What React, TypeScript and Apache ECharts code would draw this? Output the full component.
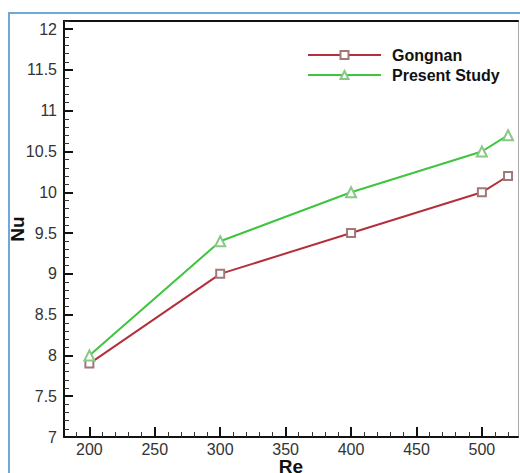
import React, { useEffect, useRef } from "react";
import * as echarts from "echarts";

const reValues = [200, 300, 400, 500, 520];
const gongnan = [7.9, 9.0, 9.5, 10.0, 10.2];
const presentStudy = [8.0, 9.4, 10.0, 10.5, 10.7];
const xMajorTicks = [200, 250, 300, 350, 400, 450, 500];
const yMajorTicks = [7, 7.5, 8, 8.5, 9, 9.5, 10, 10.5, 11, 11.5, 12];

const xMinorTicks: number[] = [];
for (let v = 190; v <= 520; v += 10) if (v % 50 !== 0) xMinorTicks.push(v);
const yMinorTicks: number[] = [];
for (let i = 71; i <= 121; i++) if (i % 5 !== 0) yMinorTicks.push(i / 10);

const FONT = "Liberation Sans, Arial, sans-serif";
const X_MIN = 180.6;
const X_MAX = 527.6;
const Y_MIN = 7;
const Y_MAX = 12.1;

export default function App() {
  const ref = useRef<HTMLDivElement>(null);
  useEffect(() => {
    if (!ref.current) return;
    const chart = echarts.init(ref.current, null, { renderer: "svg" });
    chart.setOption({
      animation: false,
      backgroundColor: "#ffffff",
      graphic: [
        {
          type: "rect",
          shape: { x: 9, y: 13, width: 700, height: 700 },
          style: { fill: "none", stroke: "#6fa8dc", lineWidth: 2 },
          z: 100,
        },
      ],
      grid: { left: 64, top: 21, right: 2, bottom: 36, containLabel: false, outerBoundsMode: "none" },
      legend: {
        data: ["Gongnan", "Present Study"],
        orient: "vertical",
        left: 302,
        top: 42,
        itemWidth: 73,
        itemHeight: 10,
        itemGap: 4,
        textStyle: {
          fontFamily: FONT,
          fontSize: 16,
          fontWeight: "bold",
          color: "#111",
          padding: [0, 0, 0, 6],
        },
      },
      xAxis: [
        {
          type: "value",
          min: X_MIN,
          max: X_MAX,
          name: "Re",
          nameLocation: "middle",
          nameGap: 20,
          nameMoveOverlap: false,
          nameTextStyle: { fontFamily: FONT, fontSize: 19, fontWeight: "bold", color: "#111" },
          axisLine: { show: true, onZero: false, lineStyle: { color: "#111", width: 2 } },
          axisTick: { show: true, inside: true, length: 10, customValues: xMajorTicks, lineStyle: { color: "#111", width: 2 } },
          axisLabel: {
            customValues: xMajorTicks,
            margin: 4,
            fontFamily: FONT,
            fontSize: 16,
            color: "#333",
          },
          splitLine: { show: false },
        },
        {
          type: "value",
          min: X_MIN,
          max: X_MAX,
          position: "bottom",
          axisLine: { show: false },
          axisTick: { show: true, inside: true, length: 5, customValues: xMinorTicks, lineStyle: { color: "#333", width: 1 } },
          axisLabel: { show: false },
          splitLine: { show: false },
        },
        {
          type: "value",
          min: X_MIN,
          max: X_MAX,
          position: "top",
          axisLine: { show: true, onZero: false, lineStyle: { color: "#111", width: 2 } },
          axisTick: { show: false },
          axisLabel: { show: false },
          splitLine: { show: false },
        },
      ],
      yAxis: [
        {
          type: "value",
          min: Y_MIN,
          max: Y_MAX,
          name: "Nu",
          nameLocation: "middle",
          nameGap: 37,
          nameMoveOverlap: false,
          nameTextStyle: { fontFamily: FONT, fontSize: 19, fontWeight: "bold", color: "#111" },
          axisLine: { show: true, onZero: false, lineStyle: { color: "#111", width: 2 } },
          axisTick: { show: true, inside: true, length: 9, customValues: yMajorTicks, lineStyle: { color: "#111", width: 2 } },
          axisLabel: {
            customValues: yMajorTicks,
            margin: 7,
            fontFamily: FONT,
            fontSize: 16,
            color: "#333",
          },
          splitLine: { show: false },
        },
        {
          type: "value",
          min: Y_MIN,
          max: Y_MAX,
          position: "left",
          axisLine: { show: false },
          axisTick: { show: true, inside: true, length: 5, customValues: yMinorTicks, lineStyle: { color: "#333", width: 1 } },
          axisLabel: { show: false },
          splitLine: { show: false },
        },
        {
          type: "value",
          min: Y_MIN,
          max: Y_MAX,
          position: "right",
          axisLine: { show: true, onZero: false, lineStyle: { color: "#aaa", width: 1 } },
          axisTick: { show: false },
          axisLabel: { show: false },
          splitLine: { show: false },
        },
      ],
      series: [
        {
          name: "Gongnan",
          type: "line",
          data: reValues.map((x, i) => [x, gongnan[i]]),
          symbol: "emptyRect",
          symbolSize: 8,
          lineStyle: { color: "#b3303c", width: 2 },
          itemStyle: { color: "#a07878", borderWidth: 1.2 },
        },
        {
          name: "Present Study",
          type: "line",
          data: reValues.map((x, i) => [x, presentStudy[i]]),
          symbol: "emptyTriangle",
          symbolSize: 10,
          lineStyle: { color: "#3ec43e", width: 2 },
          itemStyle: { color: "#88c888", borderWidth: 1.2 },
        },
      ],
    });
    return () => chart.dispose();
  }, []);
  return (
    <div
      ref={ref}
      style={{ position: "fixed", left: 0, top: 0, width: 520, height: 473 }}
    />
  );
}
